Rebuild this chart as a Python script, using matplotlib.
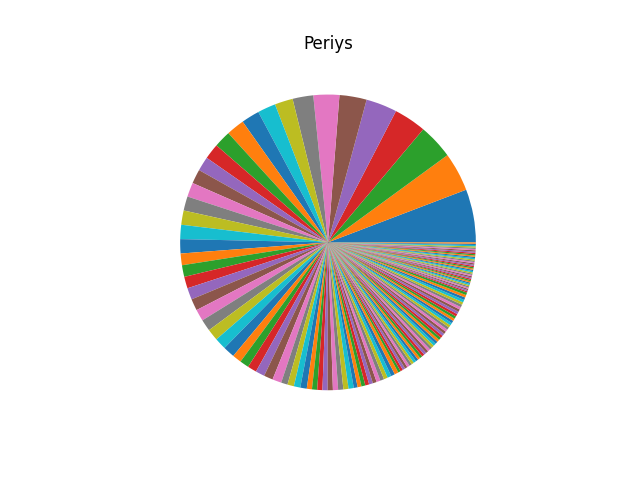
import numpy as np
import matplotlib
matplotlib.use('Agg')
import matplotlib.pyplot as plt

# counts per category, sorted descending (value_counts style)
head_counts = [41, 30, 27, 25, 24, 21, 20, 16,
               14, 14, 14, 14, 13, 12,
               11, 11, 11, 11, 11, 11, 11,
               9, 9, 9, 9, 9, 9, 9, 9, 9, 9,
               7, 7, 7, 7, 7, 7,
               5, 5, 5, 5, 4, 4, 4, 4, 4]
tail_counts = [4] * 4 + [3] * 12 + [2] * 41 + [1] * 39

counts = np.array(head_counts + tail_counts)

fig, ax = plt.subplots(1, 1, figsize=(6.4, 4.8), dpi=100)
ax.pie(counts)
ax.set_title('Periys')
plt.savefig('out.png')
